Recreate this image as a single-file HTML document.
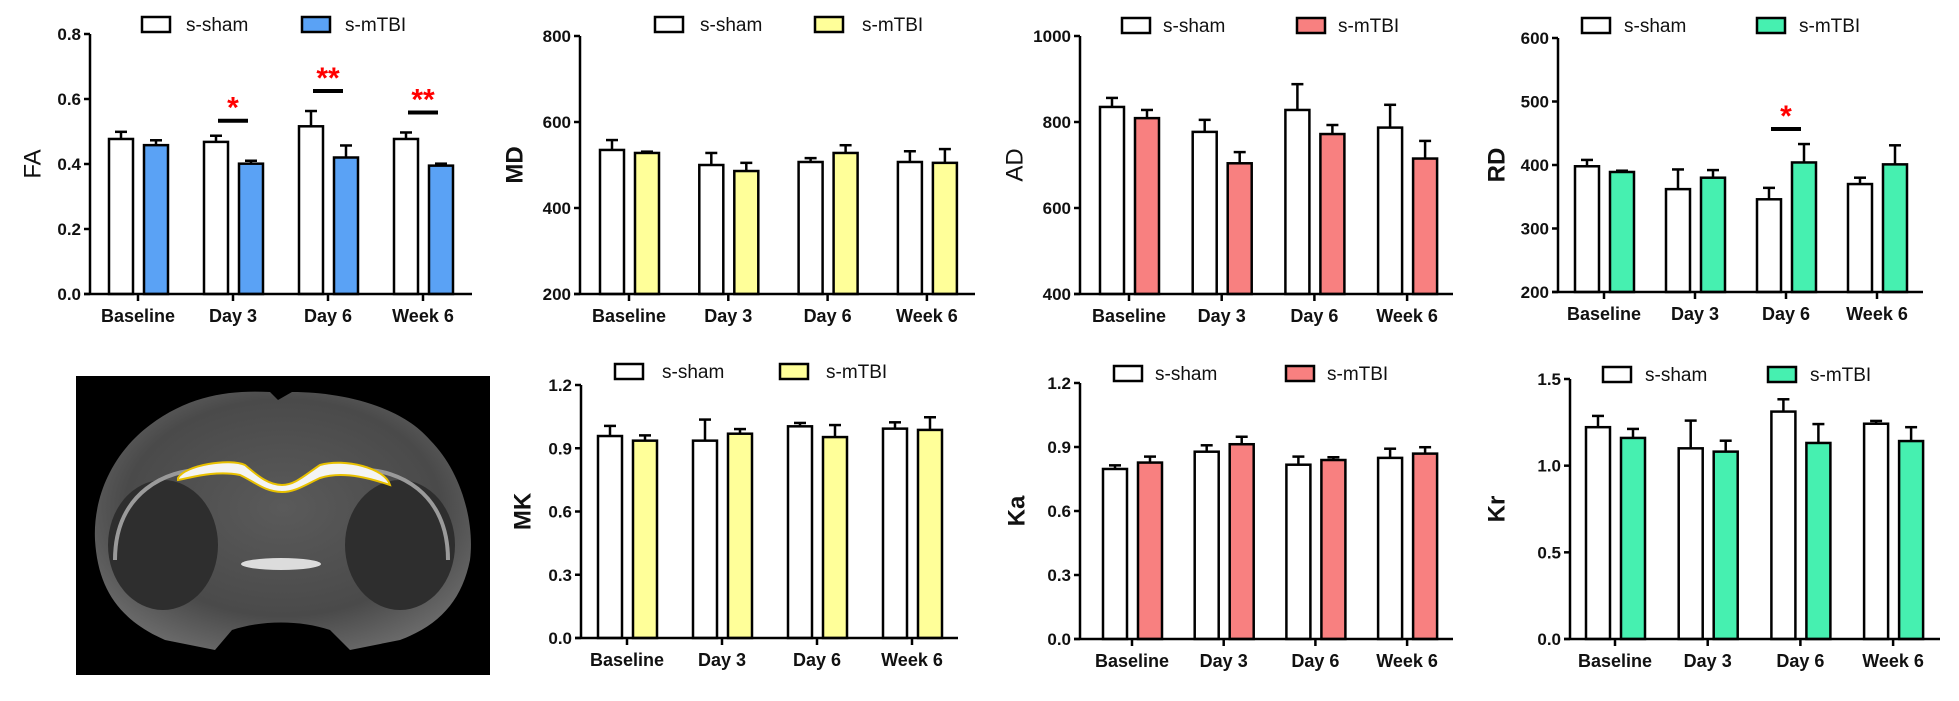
<!DOCTYPE html>
<html><head><meta charset="utf-8"><style>
html,body{margin:0;padding:0;background:#fff;}
svg{display:block;font-family:"Liberation Sans",Arial,sans-serif;}
</style></head><body>
<svg id="fig" width="1959" height="701" viewBox="0 0 1959 701" xmlns="http://www.w3.org/2000/svg">
<defs>
<radialGradient id="brainG" cx="50%" cy="45%" r="60%">
<stop offset="0" stop-color="#5a5a5a"/><stop offset="0.7" stop-color="#4a4a4a"/><stop offset="1" stop-color="#6a6a6a"/>
</radialGradient>
</defs>
<g>
<rect x="76" y="376" width="414" height="299" fill="#000"/>
<path d="M150,425 C190,395 230,390 270,392 L278,400 L292,392 C340,392 400,405 430,440 C460,470 475,520 470,560 C462,600 440,625 400,640 L350,650 L330,630 C300,620 262,620 232,630 L215,650 L165,640 C120,620 98,590 95,540 C93,500 110,455 150,425 Z" fill="url(#brainG)"/>
<ellipse cx="163" cy="545" rx="55" ry="65" fill="#2e2e2e"/>
<ellipse cx="400" cy="545" rx="55" ry="65" fill="#2e2e2e"/>
<path d="M115,560 C115,490 170,470 200,470 M448,560 C448,490 395,470 365,470" stroke="#9a9a9a" stroke-width="4" fill="none"/>
<ellipse cx="281" cy="564" rx="40" ry="6" fill="#dcdcdc"/>
<path d="M178,478 C185,465 230,458 245,465 C260,478 270,485 282,485 C295,485 305,475 320,465 C345,458 385,468 390,485 C375,480 345,470 320,478 C305,485 295,492 282,492 C265,492 255,482 240,475 C215,470 190,478 178,480 Z" fill="#f4f4f4" stroke="#e8c000" stroke-width="2"/>
</g>
<g id="charts"></g>
</svg>
<script>
// ---- data ----
const categories = ["Baseline","Day 3","Day 6","Week 6"];
const faSham = [0.477,0.468,0.516,0.477];
const faSham_err = [0.022,0.019,0.047,0.020];
const faTbi = [0.458,0.401,0.420,0.395];
const faTbi_err = [0.015,0.009,0.037,0.006];
const faTicks = [0.0,0.2,0.4,0.6,0.8];

const mdSham = [535,500,507,507];
const mdSham_err = [23,28,9,25];
const mdTbi = [528,486,528,505];
const mdTbi_err = [3,19,18,32];
const mdTicks = [200,400,600,800];

const adSham = [835,777,828,787];
const adSham_err = [21,28,60,53];
const adTbi = [809,704,772,715];
const adTbi_err = [19,26,21,41];
const adTicks = [400,600,800,1000];

const rdSham = [398,362,346,370];
const rdSham_err = [10,31,18,10];
const rdTbi = [389,380,404,401];
const rdTbi_err = [2,12,29,30];
const rdTicks = [200,300,400,500,600];

const mkSham = [0.958,0.936,1.004,0.993];
const mkSham_err = [0.048,0.100,0.016,0.030];
const mkTbi = [0.936,0.969,0.953,0.987];
const mkTbi_err = [0.025,0.022,0.057,0.060];
const mkTicks = [0.0,0.3,0.6,0.9,1.2];

const kaSham = [0.797,0.878,0.817,0.849];
const kaSham_err = [0.017,0.030,0.038,0.043];
const kaTbi = [0.827,0.913,0.839,0.869];
const kaTbi_err = [0.028,0.035,0.013,0.030];
const kaTicks = [0.0,0.3,0.6,0.9,1.2];

const krSham = [1.222,1.100,1.312,1.242];
const krSham_err = [0.065,0.160,0.071,0.016];
const krTbi = [1.160,1.081,1.131,1.142];
const krTbi_err = [0.052,0.063,0.109,0.080];
const krTicks = [0.0,0.5,1.0,1.5];

const faSig = ["", "*", "**", "**"];
const rdSig = ["", "", "*", ""];

// ---- layout ----
const NS="http://www.w3.org/2000/svg";
const root=document.getElementById("charts");
function mk(tag,attrs,parent){const e=document.createElementNS(NS,tag);for(const k in attrs)e.setAttribute(k,attrs[k]);(parent||root).appendChild(e);return e;}

const panels=[
 {key:"fa",title:"FA",bold:false,sham:faSham,se:faSham_err,tbi:faTbi,te:faTbi_err,ticks:faTicks,dec:1,color:"#5aa2f5",ax:90,yt:34,yb:294,xe:472,c0:138,sp:95,tx:33,leg:[142,186,302,345,17],sig:faSig},
 {key:"md",title:"MD",bold:true,sham:mdSham,se:mdSham_err,tbi:mdTbi,te:mdTbi_err,ticks:mdTicks,dec:0,color:"#ffff99",ax:580,yt:36,yb:294,xe:975,c0:629,sp:99.3,tx:515,leg:[655,700,815,862,17]},
 {key:"ad",title:"AD",bold:false,sham:adSham,se:adSham_err,tbi:adTbi,te:adTbi_err,ticks:adTicks,dec:0,color:"#f88080",ax:1080,yt:36,yb:294,xe:1453,c0:1129,sp:92.7,tx:1015,leg:[1122,1163,1297,1338,18]},
 {key:"rd",title:"RD",bold:true,sham:rdSham,se:rdSham_err,tbi:rdTbi,te:rdTbi_err,ticks:rdTicks,dec:0,color:"#46f0b0",ax:1558,yt:38,yb:292,xe:1923,c0:1604,sp:91,tx:1497,leg:[1582,1624,1757,1799,18],sig:rdSig},
 {key:"mk",title:"MK",bold:true,sham:mkSham,se:mkSham_err,tbi:mkTbi,te:mkTbi_err,ticks:mkTicks,dec:1,color:"#ffff99",ax:581,yt:385,yb:638,xe:958,c0:627,sp:95,tx:523,leg:[615,662,780,826,364]},
 {key:"ka",title:"Ka",bold:true,sham:kaSham,se:kaSham_err,tbi:kaTbi,te:kaTbi_err,ticks:kaTicks,dec:1,color:"#f88080",ax:1080,yt:383,yb:639,xe:1453,c0:1132,sp:91.7,tx:1017,leg:[1114,1155,1286,1327,366]},
 {key:"kr",title:"Kr",bold:true,sham:krSham,se:krSham_err,tbi:krTbi,te:krTbi_err,ticks:krTicks,dec:1,color:"#46f0b0",ax:1570,yt:379,yb:639,xe:1940,c0:1615,sp:92.7,tx:1497,leg:[1603,1645,1768,1810,367]}
];

panels.forEach(p=>{
 const g=mk("g",{});
 
 
 const lo=p.ticks[0],hi=p.ticks[p.ticks.length-1];
 const y=v=>p.yb-(v-lo)/(hi-lo)*(p.yb-p.yt);
 const xc=i=>p.c0+i*p.sp;
 // bars
 for(let i=0;i<categories.length;i++){
  const c=xc(i);
  [[p.sham,p.se,"#fff",c-29,"sham"],[p.tbi,p.te,p.color,c+6,"mtbi"]].forEach(([vals,errs,fill,x0,nm])=>{
   const v=vals[i],top=y(v),et=y(v+errs[i]),cx=x0+12;
   const eb=mk("line",{x1:cx,x2:cx,y1:top,y2:et,stroke:"#000","stroke-width":2.5},g);
   
   
   const cap=mk("line",{x1:cx-6,x2:cx+6,y1:et,y2:et,stroke:"#000","stroke-width":2.5},g);
   
   
   const r=mk("rect",{x:x0,y:top,width:24,height:p.yb-top,fill:fill,stroke:"#000","stroke-width":2.5},g);
   
   
  });
  const t=mk("line",{x1:c,x2:c,y1:p.yb,y2:p.yb+7,stroke:"#000","stroke-width":2.5},g);
  
  
  const lb=mk("text",{x:c,y:p.yb+28,"text-anchor":"middle","font-size":18,"font-weight":"bold",fill:"#111"},g);
  lb.textContent=categories[i];
  
  
  if(p.sig&&p.sig[i]){
   const m=Math.max(p.sham[i]+p.se[i],p.tbi[i]+p.te[i]);
   const ly=y(m)-15-(p.sig[i].length>1?5:0);
   const sl=mk("line",{x1:c-15,x2:c+15,y1:ly,y2:ly,stroke:"#000","stroke-width":4},g);
   
   
   const st=mk("text",{x:c,y:ly-3,"text-anchor":"middle","font-size":30,"font-weight":"bold",fill:"#f00"},g);
   st.textContent=p.sig[i];
   
   
  }
 }
 // axes
 const ya=mk("line",{x1:p.ax,x2:p.ax,y1:p.yt,y2:p.yb+1,stroke:"#000","stroke-width":2.5},g);
 
 
 const xa=mk("line",{x1:p.ax-6,x2:p.xe,y1:p.yb,y2:p.yb,stroke:"#000","stroke-width":2.5},g);
 
 
 p.ticks.forEach(tv=>{
  const ty=y(tv);
  const tk=mk("line",{x1:p.ax-6,x2:p.ax,y1:ty,y2:ty,stroke:"#000","stroke-width":2.5},g);
  
  
  const tl=mk("text",{x:p.ax-9,y:ty+6,"text-anchor":"end","font-size":17,"font-weight":"bold",fill:"#111"},g);
  tl.textContent=tv.toFixed(p.dec);
  
  
 });
 const cy=(p.yt+p.yb)/2;
 const yt=mk("text",{x:p.tx,y:cy,transform:"rotate(-90 "+p.tx+" "+cy+")","text-anchor":"middle","dominant-baseline":"central","font-size":24,"font-weight":p.bold?"bold":"normal",fill:"#111"},g);
 yt.textContent=p.title;
 
 
 // legend
 const L=p.leg;
 [[L[0],L[1],"#fff","s-sham"],[L[2],L[3],p.color,"s-mTBI"]].forEach(([bx,tx,fill,txt])=>{
  const lg=mk("g",{},g);
  
  
  mk("rect",{x:bx,y:L[4],width:28,height:15,fill:fill,stroke:"#000","stroke-width":2.5},lg);
  const t=mk("text",{x:tx,y:L[4]+14,"font-size":19,fill:"#111"},lg);
  t.textContent=txt;
 });
});
</script>
</body></html>
